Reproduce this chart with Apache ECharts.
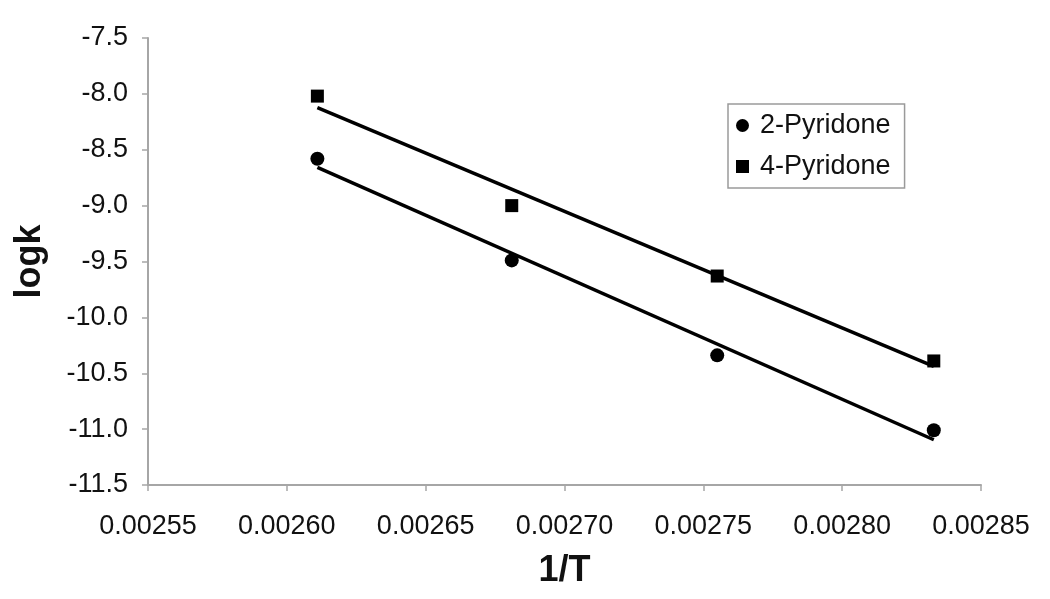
<!DOCTYPE html>
<html>
<head>
<meta charset="utf-8">
<script src="https://cdn.jsdelivr.net/npm/echarts@6/dist/echarts.min.js"></script>
<style>
html,body{margin:0;padding:0;background:#fff;}
#chart{width:1050px;height:599px;}
</style>
</head>
<body>
<div id="chart"></div>
<script>
// 1/T values (x)
const invT = [0.002611, 0.002681, 0.002755, 0.002833];
// log k values
const pyridone2 = [-8.58, -9.49, -10.34, -11.01];
const pyridone4 = [-8.02, -9.00, -9.63, -10.39];
const seriesNames = ['2-Pyridone', '4-Pyridone'];
const xTicks = { min: 0.00255, max: 0.00285, interval: 0.00005 };
const yTicks = { min: -11.5, max: -7.5, interval: 0.5 };

function pairs(xs, ys) { return xs.map((x, i) => [x, ys[i]]); }
function linFit(xs, ys) {
  const n = xs.length;
  const mx = xs.reduce((a, b) => a + b, 0) / n;
  const my = ys.reduce((a, b) => a + b, 0) / n;
  let sxy = 0, sxx = 0;
  for (let i = 0; i < n; i++) { sxy += (xs[i] - mx) * (ys[i] - my); sxx += (xs[i] - mx) ** 2; }
  const b = sxy / sxx, a = my - b * mx;
  const x0 = Math.min(...xs), x1 = Math.max(...xs);
  return [[x0, a + b * x0], [x1, a + b * x1]];
}

const FONT = 'Liberation Sans, Arial, sans-serif';
const axisGrey = '#a6a6a6';
const textCol = '#111';

const chart = echarts.init(document.getElementById('chart'), null, { renderer: 'canvas' });
chart.setOption({
  animation: false,
  backgroundColor: '#fff',
  grid: { left: 148, right: 69, top: 38, bottom: 114, containLabel: false },
  legend: {
    show: true,
    orient: 'vertical',
    left: 728, top: 104,
    data: [
      { name: seriesNames[0], icon: 'circle' },
      { name: seriesNames[1], icon: 'rect' }
    ],
    itemWidth: 13, itemHeight: 13,
    itemGap: 14,
    padding: [8, 14, 8, 8],
    borderColor: '#9a9a9a', borderWidth: 1.5,
    textStyle: { fontFamily: FONT, fontSize: 27, color: textCol, padding: [0, 0, 0, 6] }
  },
  xAxis: {
    type: 'value',
    min: xTicks.min, max: xTicks.max, interval: xTicks.interval,
    name: '1/T', nameLocation: 'middle', nameGap: 68,
    nameTextStyle: { fontFamily: FONT, fontSize: 36, fontWeight: 'bold', color: textCol },
    axisLine: { show: true, lineStyle: { color: axisGrey, width: 2 } },
    axisTick: { show: true, length: 6, lineStyle: { color: axisGrey, width: 1.5 } },
    axisLabel: { fontFamily: FONT, fontSize: 27, color: textCol, margin: 28,
      formatter: v => v.toFixed(5) },
    splitLine: { show: false }
  },
  yAxis: {
    type: 'value',
    min: yTicks.min, max: yTicks.max, interval: yTicks.interval,
    name: 'logk', nameLocation: 'middle', nameGap: 100,
    nameTextStyle: { fontFamily: FONT, fontSize: 36, fontWeight: 'bold', color: textCol },
    axisLine: { show: true, lineStyle: { color: axisGrey, width: 2 } },
    axisTick: { show: true, length: 6, lineStyle: { color: axisGrey, width: 1.5 } },
    axisLabel: { fontFamily: FONT, fontSize: 27, color: textCol, margin: 20,
      formatter: v => v.toFixed(1) },
    splitLine: { show: false }
  },
  series: [
    { name: seriesNames[0] + ' fit', type: 'line', data: linFit(invT, pyridone2), symbol: 'none',
      lineStyle: { color: '#000', width: 3.5 }, silent: true, z: 2 },
    { name: seriesNames[1] + ' fit', type: 'line', data: linFit(invT, pyridone4), symbol: 'none',
      lineStyle: { color: '#000', width: 3.5 }, silent: true, z: 2 },
    { name: seriesNames[0], type: 'scatter', data: pairs(invT, pyridone2), symbol: 'circle', symbolSize: 14,
      itemStyle: { color: '#000', opacity: 1 }, z: 3 },
    { name: seriesNames[1], type: 'scatter', data: pairs(invT, pyridone4), symbol: 'rect', symbolSize: 13,
      itemStyle: { color: '#000', opacity: 1 }, z: 3 }
  ]
});
</script>
</body>
</html>
